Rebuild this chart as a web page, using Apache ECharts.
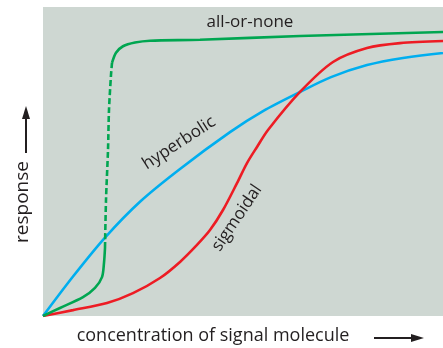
<!DOCTYPE html>
<html>
<head>
<meta charset="utf-8">
<script src="https://cdn.jsdelivr.net/npm/echarts@6/dist/echarts.min.js"></script>
<style>
  html, body { margin: 0; padding: 0; background: #fff; }
  #chart { width: 443px; height: 348px; }
</style>
</head>
<body>
<div id="chart"></div>
<script>
// Concentration (x) vs. response (y), both in arbitrary units 0–100.
const hyperbolicX = [0, 7.5, 15.5, 24.25, 34.25, 46.75, 55, 64.25, 72, 81, 90, 100];
const hyperbolicY = [0, 12.8, 25.4, 37.0, 47.6, 59.5, 66.3, 72.5, 77.3, 81.2, 83.5, 85.1];

const sigmoidalX = [0, 7.5, 16, 22.5, 29.25, 34.25, 38.5, 41.75, 45, 48.5, 51, 53.5, 56.25, 64.25, 72.5, 81, 89.25, 100];
const sigmoidalY = [0, 1.9, 4.2, 7.4, 12.3, 17.5, 23, 27.8, 34.3, 43, 49.5, 54.7, 60.2, 72.5, 82.2, 86.7, 88.3, 89];

// all-or-none: low branch, the switch (dashed) and the high branch
const lowX = [0, 4.25, 10, 13, 14.75, 15.25, 15.5];
const lowY = [0, 2.6, 6.1, 9.1, 12.6, 17.2, 22];
const switchX = [15.5, 15.75, 16.25, 16.5, 17, 17.25];
const switchY = [22, 37.5, 53.7, 66.7, 78, 81.9];
const highX = [17.25, 18.25, 20, 23, 26.75, 39.25, 64.25, 100];
const highY = [81.9, 85.2, 87.3, 88.5, 89.1, 89.4, 90.6, 91.9];

const curveLabels = ['all-or-none', 'hyperbolic', 'sigmoidal'];
const axisTitles = ['concentration of signal molecule', 'response'];

const pairs = (xs, ys) => xs.map((x, i) => [x, ys[i]]);

const GREEN = '#00a651', BLUE = '#00aeef', RED = '#ed1c24', INK = '#231f20';
const FONT = '"Open Sans", "Noto Sans", sans-serif';

const chart = echarts.init(document.getElementById('chart'), null, { renderer: 'canvas' });

const lineSeries = (name, data, color, dashed) => ({
  name, type: 'line', data, smooth: 0.3,
  showSymbol: false, symbol: 'none', silent: true, animation: false,
  lineStyle: { color, width: 2.6, type: dashed ? [6, 3] : 'solid', cap: 'butt' },
  z: 3
});

// rotation in degrees, counter-clockwise
const label = (text, x, y, deg, size) => ({
  type: 'text', x, y, rotation: deg * Math.PI / 180,
  style: { text, font: size + 'px ' + FONT, fill: INK, align: 'center', verticalAlign: 'middle' }
});

chart.setOption({
  animation: false,
  grid: { left: 43, right: 0, top: 7, bottom: 32, show: true, backgroundColor: '#ced7d2', borderWidth: 0 },
  xAxis: { type: 'value', min: 0, max: 100, show: false },
  yAxis: { type: 'value', min: 0, max: 100, show: false },
  series: [
    lineSeries('hyperbolic', pairs(hyperbolicX, hyperbolicY), BLUE, false),
    lineSeries('sigmoidal', pairs(sigmoidalX, sigmoidalY), RED, false),
    lineSeries('all-or-none low', pairs(lowX, lowY), GREEN, false),
    lineSeries('all-or-none switch', pairs(switchX, switchY), GREEN, true),
    lineSeries('all-or-none high', pairs(highX, highY), GREEN, false)
  ],
  graphic: [
    // curve names
    label(curveLabels[0], 250, 22, 0, 17),
    label(curveLabels[1], 179, 143, 33, 17),
    label(curveLabels[2], 237, 218, 56, 17),
    // axis titles
    label(axisTitles[0], 213, 336, 0, 18),
    label(axisTitles[1], 23, 202, 90, 19),
    // x arrow
    { type: 'line', shape: { x1: 374, y1: 338, x2: 414, y2: 338 }, style: { stroke: INK, lineWidth: 2 } },
    { type: 'polygon', shape: { points: [[411, 334], [424, 338], [411, 342]] }, style: { fill: INK } },
    // y arrow
    { type: 'line', shape: { x1: 26, y1: 153, x2: 26, y2: 116 }, style: { stroke: INK, lineWidth: 2 } },
    { type: 'polygon', shape: { points: [[22, 119], [26, 106], [30, 119]] }, style: { fill: INK } }
  ]
});
</script>
</body>
</html>
